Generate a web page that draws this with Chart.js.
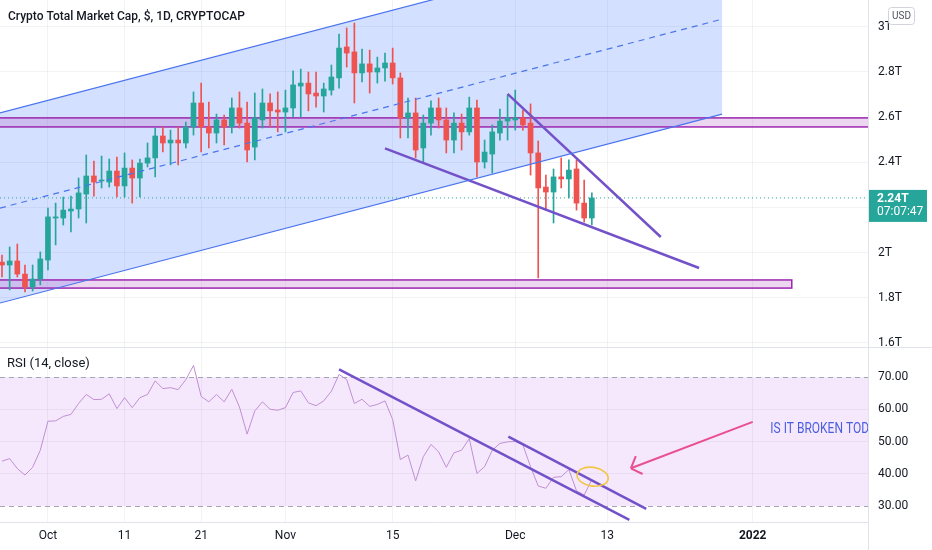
<!DOCTYPE html>
<html>
<head>
<meta charset="utf-8">
<script src="https://cdn.jsdelivr.net/npm/chart.js@4.4.1/dist/chart.umd.min.js"></script>
<style>
  html, body { margin: 0; padding: 0; background: #fff; }
  #wrap { position: relative; width: 932px; height: 550px; overflow: hidden; }
  #priceChart { position: absolute; left: 0; top: 0; }
  #rsiChart { position: absolute; left: 0; top: 348px; }
  .sep { position: absolute; background: #e0e3eb; }
</style>
</head>
<body>
<div id="wrap">
  <canvas id="priceChart" width="932" height="347"></canvas>
  <canvas id="rsiChart" width="932" height="202"></canvas>
  <div class="sep" style="left:0;top:347px;width:932px;height:1px"></div>
  <div class="sep" style="left:868px;top:0;width:1px;height:550px"></div>
</div>
<script>
// x = days since 2021-09-25 (daily candles)
const xTickDays = [6, 16, 26, 37, 51, 67, 79, 98];
const xTickLabels = ["Oct", "11", "21", "Nov", "15", "Dec", "13", "2022"];
const priceTicks = [1.6, 1.8, 2.0, 2.2, 2.4, 2.6, 2.8, 3.0];
const rsiTicks = [30, 40, 50, 60, 70];

// total market cap, trillions of USD
const opens = [
  1.958, 1.945, 1.963, 1.905, 1.848, 1.883, 1.967, 2.153, 2.153, 2.184,
  2.193, 2.259, 2.339, 2.317, 2.312, 2.361, 2.295, 2.374, 2.330, 2.396,
  2.419, 2.516, 2.485, 2.498, 2.485, 2.556, 2.662, 2.556, 2.529, 2.587,
  2.556, 2.640, 2.573, 2.467, 2.587, 2.662, 2.631, 2.622, 2.640, 2.737,
  2.750, 2.706, 2.693, 2.719, 2.773, 2.910, 2.888, 2.795, 2.835, 2.799,
  2.817, 2.839, 2.773, 2.596, 2.618, 2.463, 2.573, 2.640, 2.587, 2.498,
  2.573, 2.534, 2.640, 2.401, 2.436, 2.529, 2.582, 2.587, 2.596, 2.573,
  2.441, 2.290, 2.268, 2.335, 2.326, 2.370, 2.219, 2.153,
];
const highs = [
  1.989, 2.025, 2.038, 1.945, 1.945, 2.003, 2.197, 2.219, 2.246, 2.250,
  2.330, 2.432, 2.405, 2.427, 2.414, 2.423, 2.441, 2.410, 2.414, 2.485,
  2.551, 2.556, 2.542, 2.556, 2.578, 2.711, 2.750, 2.666, 2.613, 2.609,
  2.684, 2.711, 2.666, 2.706, 2.724, 2.702, 2.711, 2.719, 2.804, 2.812,
  2.799, 2.799, 2.750, 2.830, 2.967, 2.994, 3.016, 2.901, 2.896, 2.865,
  2.883, 2.905, 2.795, 2.684, 2.684, 2.609, 2.671, 2.684, 2.640, 2.618,
  2.613, 2.688, 2.675, 2.498, 2.565, 2.635, 2.697, 2.719, 2.631, 2.658,
  2.494, 2.343, 2.370, 2.419, 2.410, 2.410, 2.321, 2.264,
];
const lows = [
  1.892, 1.835, 1.892, 1.826, 1.830, 1.857, 1.923, 2.034, 2.122, 2.091,
  2.153, 2.131, 2.250, 2.286, 2.290, 2.246, 2.246, 2.219, 2.246, 2.379,
  2.335, 2.445, 2.388, 2.388, 2.463, 2.520, 2.445, 2.463, 2.485, 2.476,
  2.529, 2.551, 2.401, 2.410, 2.551, 2.556, 2.534, 2.534, 2.600, 2.600,
  2.627, 2.644, 2.622, 2.697, 2.728, 2.821, 2.662, 2.755, 2.706, 2.750,
  2.759, 2.746, 2.507, 2.507, 2.419, 2.401, 2.520, 2.551, 2.441, 2.441,
  2.454, 2.520, 2.335, 2.374, 2.352, 2.498, 2.498, 2.542, 2.542, 2.343,
  1.888, 2.188, 2.131, 2.286, 2.242, 2.188, 2.135, 2.122,
];
const closes = [
  1.945, 1.963, 1.905, 1.848, 1.883, 1.972, 2.158, 2.158, 2.188, 2.193,
  2.264, 2.339, 2.312, 2.321, 2.361, 2.295, 2.374, 2.330, 2.396, 2.419,
  2.516, 2.485, 2.498, 2.485, 2.556, 2.662, 2.556, 2.529, 2.587, 2.556,
  2.640, 2.573, 2.454, 2.596, 2.662, 2.627, 2.622, 2.640, 2.742, 2.750,
  2.702, 2.693, 2.724, 2.777, 2.905, 2.883, 2.795, 2.835, 2.799, 2.817,
  2.839, 2.773, 2.596, 2.618, 2.454, 2.573, 2.640, 2.587, 2.498, 2.573,
  2.534, 2.640, 2.401, 2.445, 2.534, 2.582, 2.596, 2.596, 2.565, 2.441,
  2.286, 2.268, 2.335, 2.326, 2.365, 2.219, 2.153, 2.242,
];
const rsi = [
  43.9, 44.7, 41.6, 39.6, 42.0, 47.3, 56.3, 56.4, 57.8, 58.4,
  61.8, 64.6, 63.0, 63.1, 64.8, 60.2, 63.6, 60.5, 63.6, 64.6,
  68.8, 66.4, 66.7, 66.1, 69.2, 73.6, 64.0, 62.3, 64.6, 62.3,
  66.2, 60.7, 52.3, 59.5, 62.3, 60.0, 59.7, 60.5, 65.2, 65.7,
  62.0, 61.1, 62.6, 65.6, 70.8, 69.2, 61.8, 63.1, 60.9, 61.5,
  62.6, 56.8, 44.4, 45.8, 37.8, 45.3, 49.1, 46.8, 42.0, 46.5,
  47.3, 50.9, 40.1, 42.2, 47.3, 49.4, 49.9, 50.0, 48.9, 42.2,
  36.2, 35.5, 38.9, 39.1, 41.3, 34.7, 33.4, 38.2,
];

// drawings on the price pane
const channelX = [-0.26, 94.0];
const channelUpper = [2.618, 3.454];
const channelMid = [2.197, 3.033];
const channelLower = [1.777, 2.613];
const wedgeUpperX = [66.0, 86.0];
const wedgeUpperY = [2.702, 2.069];
const wedgeLowerX = [50.0, 91.0];
const wedgeLowerY = [2.4615, 1.932];
const zoneTopX = [-1, 120];
const zoneTop = [2.556, 2.596];
const zoneLowX = [-1, 103.1];
const zoneLow = [1.843, 1.879];

// drawings on the RSI pane
const rsiTrendAX = [44.0, 81.9];
const rsiTrendAY = [72.4, 25.7];
const rsiTrendBX = [66.1, 84.1];
const rsiTrendBY = [51.5, 29.1];
const arrowX = [98.0, 82.1];
const arrowY = [56.1, 41.7];
const circleAt = [77.1, 39.1];
const circleSize = [2.05, 2.9];
const noteAt = [100.3, 53.9];
const noteText = "IS IT BROKEN TODAY?";
const countdown = "07:07:47";

const X_MIN = -0.26, X_MAX = 113.05;
const FONT = "Roboto, 'Liberation Sans', sans-serif";
const UP = "#26a69a", DOWN = "#ef5350";
const GRID = "rgba(42, 46, 57, 0.06)";
const TEXT = "#131722";

const pts = (xs, ys) => xs.map((x, i) => ({ x, y: ys[i] }));
const lastClose = closes[closes.length - 1];
const candleColors = opens.map((o, i) => (closes[i] >= o ? UP : DOWN));

function lineSet(data, color, width, extra) {
  return Object.assign({
    type: "line", data, borderColor: color, borderWidth: width,
    pointRadius: 0, fill: false, tension: 0, order: 1,
  }, extra || {});
}

function xScale(showTicks) {
  return {
    type: "linear", min: X_MIN, max: X_MAX, offset: false,
    grid: { color: GRID, drawTicks: false, offset: false },
    border: { display: showTicks, color: "#e0e3eb" },
    afterBuildTicks: (s) => { s.ticks = xTickDays.map((v) => ({ value: v })); },
    afterFit: (s) => {
      s.paddingLeft = 0; s.paddingRight = 0;
      s.height = showTicks ? 28 : 0;
    },
    ticks: {
      display: showTicks, autoSkip: false, maxRotation: 0, padding: 7, color: TEXT,
      font: (c) => ({ family: FONT, size: 12, weight: c.tick && c.tick.value === 98 ? "bold" : "normal" }),
      callback: (v) => { const k = xTickDays.indexOf(v); return k >= 0 ? xTickLabels[k] : ""; },
    },
  };
}

function rightAxis(min, max, ticks, fmt, gridColor) {
  return {
    position: "right", min, max,
    grid: { color: gridColor, drawTicks: false },
    border: { display: false },
    afterBuildTicks: (s) => { s.ticks = ticks.map((v) => ({ value: v })); },
    afterFit: (s) => { s.width = 64; s.paddingTop = 0; s.paddingBottom = 0; },
    ticks: { padding: 10, color: TEXT, font: { family: FONT, size: 12 }, callback: fmt },
  };
}

const priceDrawings = {
  id: "priceDrawings",
  beforeDatasetsDraw(chart) {
    const { ctx, chartArea: a, scales: { x, y } } = chart;
    ctx.save();
    ctx.beginPath();
    ctx.rect(a.left, a.top, a.width, a.height);
    ctx.clip();
    ctx.beginPath();
    ctx.moveTo(x.getPixelForValue(channelX[0]), y.getPixelForValue(channelUpper[0]));
    ctx.lineTo(x.getPixelForValue(channelX[1]), y.getPixelForValue(channelUpper[1]));
    ctx.lineTo(x.getPixelForValue(channelX[1]), y.getPixelForValue(channelLower[1]));
    ctx.lineTo(x.getPixelForValue(channelX[0]), y.getPixelForValue(channelLower[0]));
    ctx.closePath();
    ctx.fillStyle = "rgba(41, 98, 255, 0.2)";
    ctx.fill();
    [[zoneTopX, zoneTop], [zoneLowX, zoneLow]].forEach(([zx, zy]) => {
      const x0 = x.getPixelForValue(zx[0]), x1 = x.getPixelForValue(zx[1]);
      const y0 = y.getPixelForValue(zy[1]), y1 = y.getPixelForValue(zy[0]);
      ctx.fillStyle = "rgba(186, 104, 200, 0.27)";
      ctx.fillRect(x0, y0, x1 - x0, y1 - y0);
      ctx.strokeStyle = "#9c27b0";
      ctx.lineWidth = 1.5;
      ctx.strokeRect(x0, y0, x1 - x0, y1 - y0);
    });
    ctx.restore();
  },
  afterDraw(chart) {
    const { ctx, chartArea: a, scales: { y } } = chart;
    ctx.save();
    ctx.fillStyle = TEXT;
    ctx.font = "500 12px " + FONT;
    ctx.textBaseline = "middle";
    ctx.fillText("Crypto Total Market Cap, $, 1D, CRYPTOCAP", 8, 17);

    const yc = y.getPixelForValue(lastClose);
    ctx.fillStyle = UP;
    ctx.fillRect(a.right + 1, yc - 8, 58, 32);
    ctx.fillStyle = "#fff";
    ctx.font = "bold 12px " + FONT;
    ctx.fillText(lastClose.toFixed(2) + "T", a.right + 9, yc + 1);
    ctx.font = "12px " + FONT;
    ctx.fillText(countdown, a.right + 9, yc + 14);

    ctx.fillStyle = "#fff";
    ctx.strokeStyle = "#d1d4dc";
    ctx.lineWidth = 1;
    ctx.beginPath();
    ctx.roundRect(888.5, 7.5, 26, 17, 3);
    ctx.fill();
    ctx.stroke();
    ctx.fillStyle = "#50535e";
    ctx.font = "10px " + FONT;
    ctx.textAlign = "center";
    ctx.fillText("USD", 901.5, 16.5);
    ctx.restore();
  },
};

const rsiDrawings = {
  id: "rsiDrawings",
  beforeDatasetsDraw(chart) {
    const { ctx, chartArea: a, scales: { y } } = chart;
    const y70 = y.getPixelForValue(70), y30 = y.getPixelForValue(30);
    ctx.save();
    ctx.fillStyle = "rgba(175, 80, 235, 0.13)";
    ctx.fillRect(a.left, y70, a.width, y30 - y70);
    ctx.strokeStyle = "#a3a6af";
    ctx.lineWidth = 1;
    ctx.setLineDash([5, 4]);
    [y70, y30].forEach((py) => {
      ctx.beginPath();
      ctx.moveTo(a.left, Math.round(py) + 0.5);
      ctx.lineTo(a.right, Math.round(py) + 0.5);
      ctx.stroke();
    });
    ctx.restore();
  },
  afterDatasetsDraw(chart) {
    const { ctx, chartArea: a, scales: { x, y } } = chart;
    ctx.save();
    ctx.beginPath();
    ctx.rect(a.left, a.top, a.width, a.height);
    ctx.clip();
    // arrow head
    const tx = x.getPixelForValue(arrowX[1]), ty = y.getPixelForValue(arrowY[1]);
    const ang = Math.atan2(y.getPixelForValue(arrowY[0]) - ty, x.getPixelForValue(arrowX[0]) - tx);
    ctx.strokeStyle = "#e8508f";
    ctx.lineWidth = 2;
    [-0.82, 0.82].forEach((d) => {
      ctx.beginPath();
      ctx.moveTo(tx, ty);
      ctx.lineTo(tx + 13 * Math.cos(ang + d), ty + 13 * Math.sin(ang + d));
      ctx.stroke();
    });
    // circle round the break
    const cx = x.getPixelForValue(circleAt[0]), cy = y.getPixelForValue(circleAt[1]);
    const rx = x.getPixelForValue(circleAt[0] + circleSize[0]) - cx;
    const ry = cy - y.getPixelForValue(circleAt[1] + circleSize[1]);
    ctx.strokeStyle = "#f2c744";
    ctx.lineWidth = 1.6;
    ctx.beginPath();
    ctx.ellipse(cx, cy, rx, ry, 0.15, 0, Math.PI * 2);
    ctx.stroke();
    // note, narrow lettering
    const nx = x.getPixelForValue(noteAt[0]), ny = y.getPixelForValue(noteAt[1]);
    ctx.translate(nx, ny);
    ctx.scale(0.8, 1);
    ctx.fillStyle = "#4a5fe0";
    ctx.font = "15px " + FONT;
    ctx.textBaseline = "middle";
    ctx.fillText(noteText, 0, 0);
    ctx.restore();
  },
  afterDraw(chart) {
    const { ctx } = chart;
    ctx.save();
    ctx.fillStyle = TEXT;
    ctx.font = "13px " + FONT;
    ctx.textBaseline = "middle";
    ctx.fillText("RSI (14, close)", 7, 16);
    ctx.restore();
  },
};

const common = {
  responsive: false,
  animation: false,
  layout: { padding: 0 },
  plugins: { legend: { display: false }, tooltip: { enabled: false } },
  events: [],
};

new Chart(document.getElementById("priceChart"), {
  type: "bar",
  data: {
    datasets: [
      {
        data: pts(opens.map((_, i) => i), lows.map((l, i) => [l, highs[i]])),
        backgroundColor: candleColors, barThickness: 1, grouped: false, order: 5,
      },
      {
        data: pts(opens.map((_, i) => i), opens.map((o, i) => [o, closes[i]])),
        backgroundColor: candleColors, barThickness: 5, minBarLength: 1, grouped: false, order: 4,
      },
      lineSet(pts(channelX, channelUpper), "#4a74ee", 1.2),
      lineSet(pts(channelX, channelMid), "#4a74ee", 1.2, { borderDash: [6, 5] }),
      lineSet(pts(channelX, channelLower), "#4a74ee", 1.2),
      lineSet(pts([X_MIN, X_MAX], [lastClose, lastClose]), UP, 1, { borderDash: [1, 3], order: 6 }),
      lineSet(pts(wedgeUpperX, wedgeUpperY), "#7352c9", 2.5),
      lineSet(pts(wedgeLowerX, wedgeLowerY), "#7352c9", 2.5),
    ],
  },
  options: Object.assign({}, common, {
    scales: {
      x: xScale(false),
      y: rightAxis(1.5823, 3.1177, priceTicks, (v) => +v.toFixed(1) + "T", GRID),
    },
  }),
  plugins: [priceDrawings],
});

new Chart(document.getElementById("rsiChart"), {
  type: "line",
  data: {
    datasets: [
      lineSet(pts(rsi.map((_, i) => i), rsi), "#c08fd2", 1, { order: 3 }),
      lineSet(pts(rsiTrendAX, rsiTrendAY), "#7352c9", 2.5),
      lineSet(pts(rsiTrendBX, rsiTrendBY), "#7352c9", 2.5),
      lineSet(pts(arrowX, arrowY), "#e8508f", 2),
    ],
  },
  options: Object.assign({}, common, {
    scales: {
      x: xScale(true),
      y: rightAxis(25.04, 79.0, rsiTicks, (v) => v.toFixed(2),
        (c) => (c.tick && (c.tick.value === 30 || c.tick.value === 70) ? "rgba(0,0,0,0)" : GRID)),
    },
  }),
  plugins: [rsiDrawings],
});
</script>
</body>
</html>
